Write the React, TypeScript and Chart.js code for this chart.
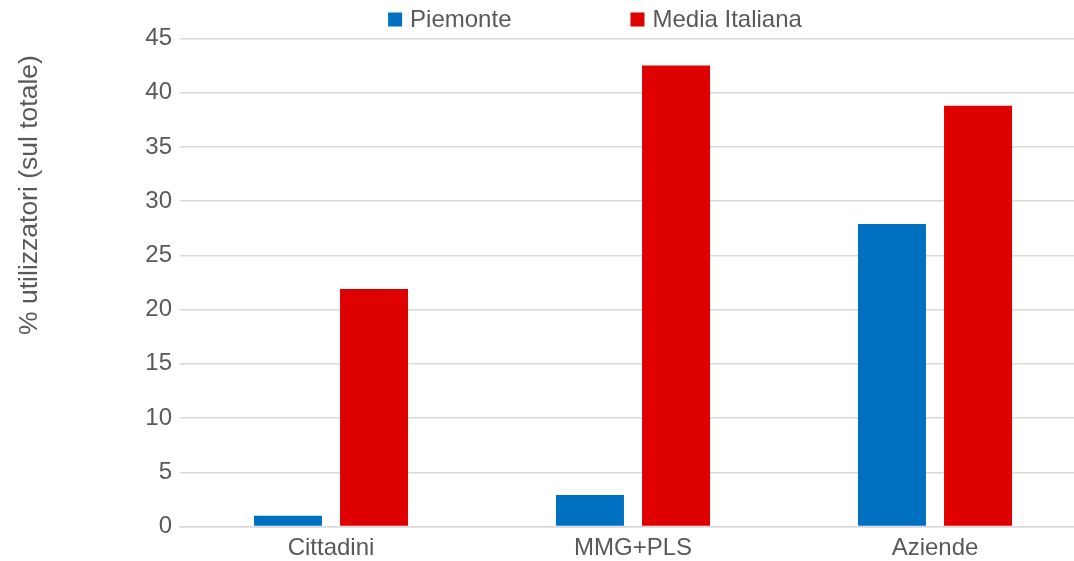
import React, { useEffect, useRef } from "react";
import { Chart, registerables } from "chart.js";

Chart.register(...registerables);

const categories = ["Cittadini", "MMG+PLS", "Aziende"];
const piemonte = [1.0, 2.9, 27.9];
const mediaItaliana = [21.9, 42.5, 38.8];
const seriesLabels = ["Piemonte", "Media Italiana"];
const yTitle = "% utilizzatori (sul totale)";

const BLUE = "#0070C0";
const RED = "#DF0000";
const TEXT = "#595959";
const GRID = "#d9d9d9";
const FONT = "'Liberation Sans', Arial, sans-serif";

const extrasPlugin = {
  id: "extras",
  afterDraw(chart: any) {
    const ctx = chart.ctx;
    ctx.save();
    ctx.font = `24px ${FONT}`;
    ctx.fillStyle = TEXT;
    // legend
    const items = chart.data.datasets.map((d: any) => ({
      text: d.label,
      color: d.backgroundColor,
      w: ctx.measureText(d.label).width,
    }));
    const box = 14;
    const gapBox = 8;
    const gapItem = 119;
    let total = 0;
    items.forEach((it: any, i: number) => {
      total += box + gapBox + it.w + (i > 0 ? gapItem : 0);
    });
    let x = 595 - total / 2;
    const cy = 19.5;
    items.forEach((it: any) => {
      ctx.fillStyle = it.color;
      ctx.fillRect(x, cy - box / 2, box, box);
      ctx.fillStyle = TEXT;
      ctx.textAlign = "left";
      ctx.textBaseline = "middle";
      ctx.fillText(it.text, x + box + gapBox, cy + 1);
      x += box + gapBox + it.w + gapItem;
    });
    // y title
    ctx.font = `26.5px ${FONT}`;
    ctx.translate(29.5, 195);
    ctx.rotate(-Math.PI / 2);
    ctx.textAlign = "center";
    ctx.textBaseline = "middle";
    ctx.fillText(yTitle, 0, 0);
    ctx.restore();
  },
};

export default function App() {
  const ref = useRef<HTMLCanvasElement>(null);
  useEffect(() => {
    document.body.style.margin = "0";
    const chart = new Chart(ref.current!, {
      type: "bar",
      data: {
        labels: categories,
        datasets: [
          { label: seriesLabels[0], data: piemonte, backgroundColor: BLUE },
          { label: seriesLabels[1], data: mediaItaliana, backgroundColor: RED },
        ],
      },
      options: {
        animation: false,
        responsive: false,
        events: [],
        layout: { padding: { top: 38.5, right: 4, left: 0, bottom: 0 } },
        datasets: {
          bar: { categoryPercentage: 0.57, barPercentage: 0.79 },
        },
        plugins: {
          legend: { display: false },
          tooltip: { enabled: false },
          title: { display: false },
        },
        scales: {
          x: {
            grid: { display: false, drawTicks: false },
            border: { display: true, color: GRID, width: 1.5 },
            ticks: {
              color: TEXT,
              font: { family: FONT, size: 24 },
              padding: 7,
            },
            afterFit(scale: any) {
              scale.height = 34.5;
            },
          },
          y: {
            min: 0,
            max: 45,
            grid: { color: GRID, lineWidth: 1.5, drawTicks: false },
            border: { display: false },
            ticks: {
              stepSize: 5,
              color: TEXT,
              font: { family: FONT, size: 24 },
              padding: 8,
            },
            afterFit(scale: any) {
              scale.width = 180;
            },
          },
        },
      },
      plugins: [extrasPlugin],
    });
    return () => chart.destroy();
  }, []);
  return (
    <div style={{ width: 1074, height: 561, overflow: "hidden", position: "relative", background: "#fff" }}>
      <canvas ref={ref} width={1090} height={561} style={{ display: "block" }} />
    </div>
  );
}
